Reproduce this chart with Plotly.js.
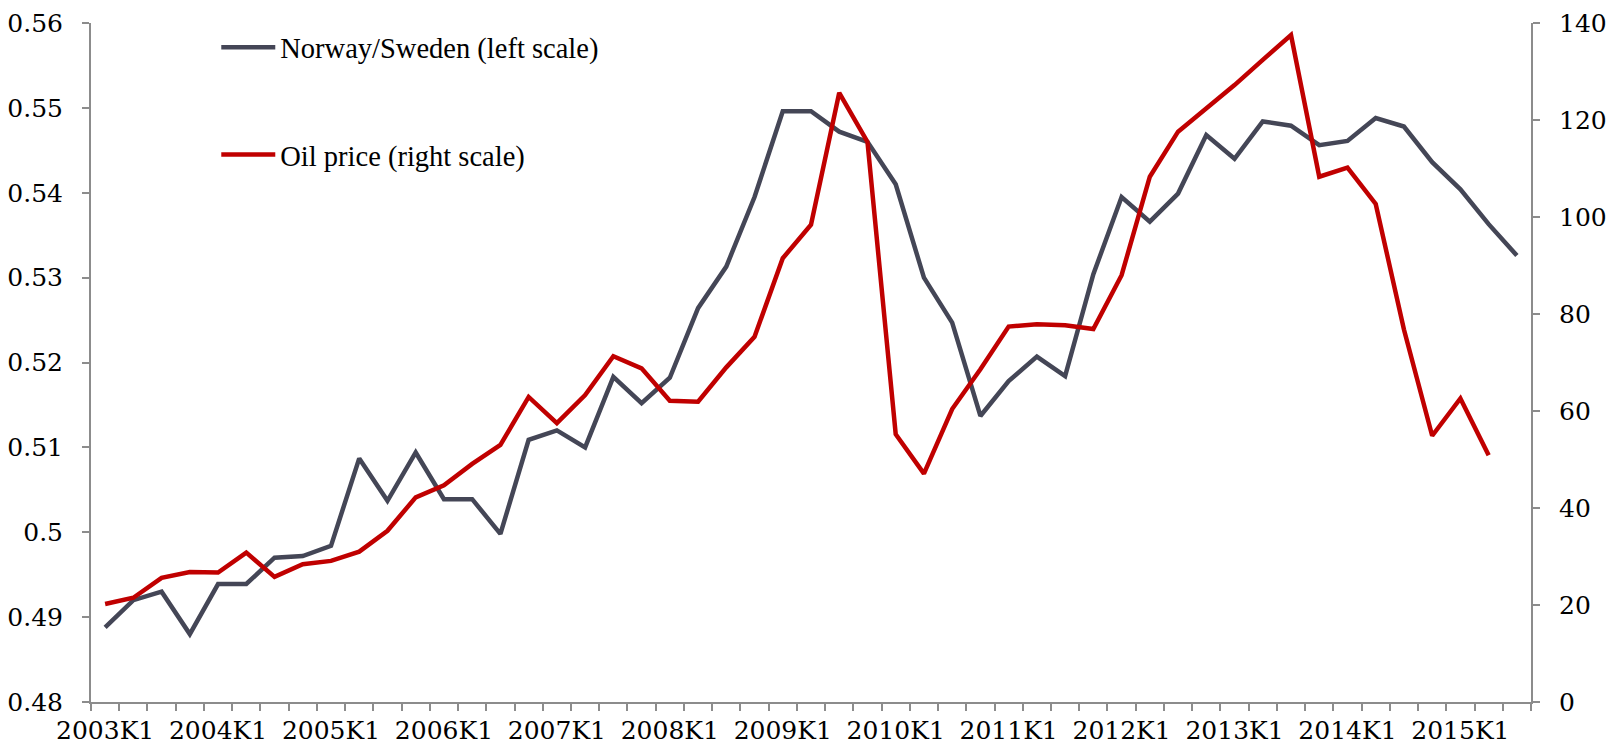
<!DOCTYPE html>
<html>
<head>
<meta charset="utf-8">
<script src="https://cdn.plot.ly/plotly-3.0.1.min.js"></script>
<style>
  html, body { margin: 0; padding: 0; background: #ffffff; }
  #chart { width: 1612px; height: 747px; }
</style>
</head>
<body>
<div id="chart"></div>
<script>
// Quarters 2003K1 .. 2015K3
const years = [2003, 2004, 2005, 2006, 2007, 2008, 2009, 2010, 2011, 2012, 2013, 2014, 2015];
const quarters = [];
years.forEach(y => { for (let q = 1; q <= 4; q++) { if (y === 2015 && q > 3) break; quarters.push(y + 'K' + q); } });

// Tick labels (only first quarter of each year is labelled)
const tickLabels = quarters.map(q => q.endsWith('K1') ? q : '');

// Norway/Sweden (left scale)
const norwaySweden = [
  0.4888, 0.4920, 0.4930, 0.4880,
  0.4939, 0.4939, 0.4970, 0.4972,
  0.4984, 0.5087, 0.5037, 0.5094,
  0.5039, 0.5039, 0.4998, 0.5109,
  0.5120, 0.5100, 0.5183, 0.5152,
  0.5182, 0.5264, 0.5313, 0.5395,
  0.5496, 0.5496, 0.5472, 0.5460,
  0.5410, 0.5300, 0.5247, 0.5137,
  0.5178, 0.5207, 0.5184, 0.5304,
  0.5395, 0.5366, 0.5399, 0.5468,
  0.5440, 0.5484, 0.5479, 0.5456,
  0.5461, 0.5488, 0.5478, 0.5436,
  0.5404, 0.5363, 0.5326
];

// Oil price (right scale)
const oilPrice = [
  20.2, 21.5, 25.6, 26.8,
  26.7, 30.8, 25.8, 28.4,
  29.1, 31.0, 35.3, 42.2,
  44.7, 49.1, 53.0, 62.9,
  57.5, 63.3, 71.3, 68.8,
  62.1, 61.9, 69.0, 75.3,
  91.5, 98.4, 125.6, 115.5,
  55.2, 47.1, 60.4, 68.6,
  77.4, 77.9, 77.7, 76.9,
  88.0, 108.3, 117.6, 122.4,
  127.2, 132.4, 137.5, 108.3,
  110.2, 102.7, 76.8, 54.9,
  62.6, 50.9, null
];

const seriesNames = ['Norway/Sweden (left scale)', 'Oil price (right scale)'];
const seriesColors = ['#444656', '#C00000'];

const traces = [
  {
    x: quarters, y: norwaySweden, type: 'scatter', mode: 'lines',
    name: seriesNames[0], legendgroup: 'a',
    line: { color: seriesColors[0], width: 4.5, shape: 'linear' },
    yaxis: 'y', hoverinfo: 'x+y'
  },
  {
    x: quarters, y: oilPrice, type: 'scatter', mode: 'lines',
    name: seriesNames[1], legendgroup: 'b',
    line: { color: seriesColors[1], width: 4.5, shape: 'linear' },
    yaxis: 'y2', hoverinfo: 'x+y', connectgaps: false
  }
];

const axisColor = '#8c8c8c';
const tickFont = { family: 'DejaVu Serif, serif', size: 25, color: '#000000' };

const layout = {
  width: 1612, height: 747,
  margin: { l: 91, r: 81, t: 23, b: 45, pad: 0 },
  paper_bgcolor: '#ffffff', plot_bgcolor: '#ffffff',
  showlegend: true,
  legend: {
    x: 0.087, y: 1.001, xanchor: 'left', yanchor: 'top',
    xref: 'paper', yref: 'paper',
    bgcolor: 'rgba(0,0,0,0)', borderwidth: 0,
    font: { family: 'Liberation Serif, serif', size: 28.5, color: '#000000' },
    traceorder: 'grouped', tracegroupgap: 67, itemwidth: 54
  },
  xaxis: {
    type: 'category',
    tickmode: 'array', tickvals: quarters, ticktext: tickLabels,
    tickson: 'boundaries', ticks: 'outside', ticklen: 7, tickwidth: 2, tickcolor: axisColor,
    showline: true, linecolor: axisColor, linewidth: 2,
    showgrid: false, zeroline: false,
    tickfont: tickFont, tickangle: 0, ticklabelstandoff: 5,
    range: [-0.5, quarters.length - 0.5], fixedrange: true
  },
  yaxis: {
    range: [0.48, 0.56], dtick: 0.01, tick0: 0.48,
    ticks: 'outside', ticklen: 7, tickwidth: 2, tickcolor: axisColor,
    showline: true, linecolor: axisColor, linewidth: 2,
    showgrid: false, zeroline: false,
    tickfont: tickFont, ticklabelstandoff: 14, fixedrange: true
  },
  yaxis2: {
    range: [0, 140], dtick: 20, tick0: 0,
    overlaying: 'y', side: 'right',
    ticks: 'outside', ticklen: 7, tickwidth: 2, tickcolor: axisColor,
    showline: true, linecolor: axisColor, linewidth: 2,
    showgrid: false, zeroline: false,
    tickfont: tickFont, ticklabelstandoff: 14, fixedrange: true
  }
};

Plotly.newPlot('chart', traces, layout, { displayModeBar: false, staticPlot: true });
</script>
</body>
</html>
